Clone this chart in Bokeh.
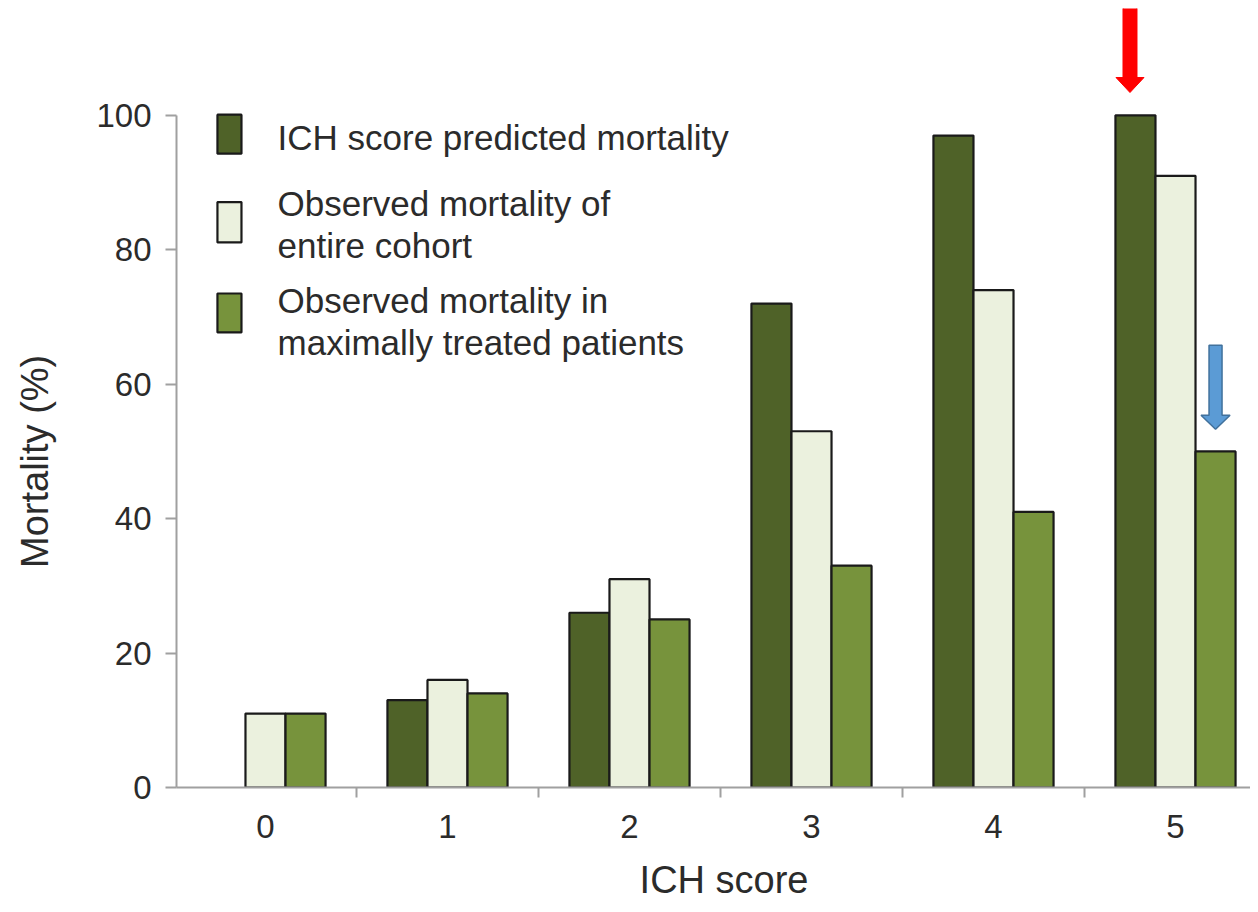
from bokeh.plotting import figure
from bokeh.models import ColumnDataSource, FixedTicker, Range1d, Label, BoxAnnotation
from bokeh.transform import dodge
from bokeh.embed import file_html
from bokeh.resources import INLINE

# ---- data ----
ich_score = [0, 1, 2, 3, 4, 5]
tick_labels = ["0", "1", "2", "3", "4", "5"]
predicted = [0, 13, 26, 72, 97, 100]          # ICH score predicted mortality
observed_all = [11, 16, 31, 53, 74, 91]       # Observed mortality of entire cohort
observed_max = [11, 14, 25, 33, 41, 50]       # Observed mortality in maximally treated patients
legend_labels = [
    ["ICH score predicted mortality"],
    ["Observed mortality of", "entire cohort"],
    ["Observed mortality in", "maximally treated patients"],
]
x_title = "ICH score"
y_title = "Mortality (%)"

# ---- styles ----
C_DARK = "#4f6228"
C_LIGHT = "#ebf1de"
C_GREEN = "#77933c"
AX = "#a0a0a0"
TXT = "#2b2b2b"
EDGE = "#1a1a1a"
FONT = "Liberation Sans"
BW = 0.22

W, H = 1250, 910
B_LEFT, B_TOP, B_BOTTOM = 176, 8, 123
X0 = -0.489
PX_X = 182.0
X1 = X0 + (W - B_LEFT) / PX_X
Y0, Y1 = 0, 115.9
PX_Y = (H - B_TOP - B_BOTTOM) / (Y1 - Y0)

src = ColumnDataSource(dict(
    x=ich_score, pred=predicted, obs=observed_all, mx=observed_max,
    pred_line=[EDGE if v > 0 else None for v in predicted],
))

p = figure(width=W, height=H, output_backend="svg", toolbar_location=None,
           x_range=Range1d(X0, X1), y_range=Range1d(Y0, Y1),
           min_border_left=B_LEFT, min_border_right=0, min_border_top=B_TOP,
           min_border_bottom=B_BOTTOM)
p.outline_line_color = None
p.grid.visible = False
p.background_fill_color = "white"
p.border_fill_color = "white"

p.vbar(x=dodge("x", -BW, range=p.x_range), top="pred", width=BW, source=src,
       fill_color=C_DARK, line_color="pred_line", line_width=2.2)
p.vbar(x="x", top="obs", width=BW, source=src,
       fill_color=C_LIGHT, line_color=EDGE, line_width=2.2)
p.vbar(x=dodge("x", BW, range=p.x_range), top="mx", width=BW, source=src,
       fill_color=C_GREEN, line_color=EDGE, line_width=2.2)

# ---- axes ----
xa = p.xaxis[0]
xa.ticker = FixedTicker(ticks=ich_score, minor_ticks=[i - 0.5 for i in ich_score] + [5.5])
xa.major_label_overrides = {i: t for i, t in zip(ich_score, tick_labels)}
xa.axis_line_color = AX
xa.axis_line_width = 2
xa.major_tick_line_color = None
xa.major_tick_out = 10
xa.major_tick_in = 0
xa.minor_tick_line_color = AX
xa.minor_tick_line_width = 2
xa.minor_tick_out = 10
xa.minor_tick_in = 0
xa.major_label_standoff = 17
xa.major_label_text_font = FONT
xa.major_label_text_font_size = "33px"
xa.major_label_text_color = TXT
# leading no-break spaces nudge the title right, as in the reference
xa.axis_label = "\u00a0" * 2 + x_title
xa.axis_label_text_font = FONT
xa.axis_label_text_font_size = "38px"
xa.axis_label_text_font_style = "normal"
xa.axis_label_text_color = TXT
xa.axis_label_standoff = 18

ya = p.yaxis[0]
ya.ticker = FixedTicker(ticks=[0, 20, 40, 60, 80, 100])
ya.bounds = (0, 100)
ya.axis_line_color = AX
ya.axis_line_width = 2
ya.major_tick_line_color = AX
ya.major_tick_line_width = 2
ya.major_tick_out = 11
ya.major_tick_in = 0
ya.minor_tick_line_color = None
ya.major_label_standoff = 14
ya.major_label_text_font = FONT
ya.major_label_text_font_size = "33px"
ya.major_label_text_color = TXT
# trailing no-break spaces move the visible title down to the middle of the 0-100 axis
ya.axis_label = y_title + "\u00a0" * 12
ya.axis_label_text_font = FONT
ya.axis_label_text_font_size = "38px"
ya.axis_label_text_font_style = "normal"
ya.axis_label_text_color = TXT
ya.axis_label_standoff = 37

# ---- legend (manual, multi-line) ----
leg_colors = [C_DARK, C_LIGHT, C_GREEN]
box_x = (-0.264, -0.132)
box_y = [(94.3, 100.1), (81.1, 87.1), (67.7, 73.5)]
text_x = 0.066
text_y = [[96.7], [86.9, 80.7], [72.5, 66.2]]
for col, (b0, b1), lines, ys in zip(leg_colors, box_y, legend_labels, text_y):
    p.add_layout(BoxAnnotation(left=box_x[0], right=box_x[1], bottom=b0, top=b1,
                               fill_color=col, fill_alpha=1, line_color=EDGE,
                               line_width=2.2, line_alpha=1))
    for t, yy in zip(lines, ys):
        p.add_layout(Label(x=text_x, y=yy, text=t, text_font=FONT,
                           text_font_size="35px", text_color=TXT,
                           text_baseline="middle", text_align="left"))


# ---- block arrows ----
def block_arrow(x_tip, y_tip, length_px, shaft_px, head_w_px, head_l_px):
    sw = shaft_px / 2 / PX_X
    hw = head_w_px / 2 / PX_X
    hl = head_l_px / PX_Y
    L = length_px / PX_Y
    xs = [x_tip, x_tip + hw, x_tip + sw, x_tip + sw, x_tip - sw, x_tip - sw, x_tip - hw]
    ys = [y_tip, y_tip + hl, y_tip + hl, y_tip + L, y_tip + L, y_tip + hl, y_tip + hl]
    return xs, ys


rx, ry = block_arrow(ich_score[5] - 0.25, predicted[5] + 3.4, 86, 14, 28, 15)
p.patch(rx, ry, fill_color="#ff0000", line_color="#ff0000", line_width=1)
bx, by = block_arrow(ich_score[5] + BW, observed_max[5] + 3.3, 84, 13, 29, 14)
p.patch(bx, by, fill_color="#5b9bd5", line_color="#41719c", line_width=1.5)

open("out.html", "w").write(file_html(p, INLINE))
